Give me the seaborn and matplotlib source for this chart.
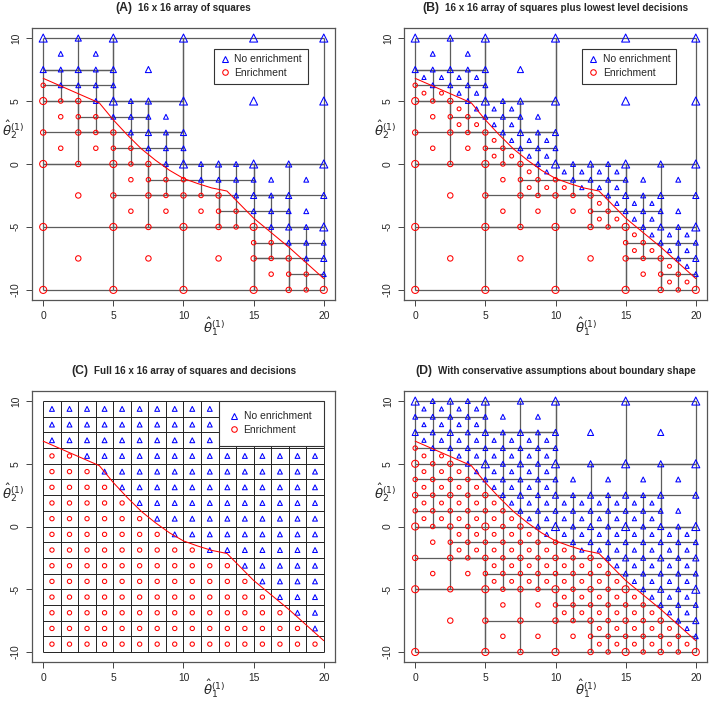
import numpy as np
import pandas as pd
import matplotlib
matplotlib.use("Agg")
import matplotlib.pyplot as plt
import seaborn as sns
from matplotlib.collections import LineCollection
from matplotlib.lines import Line2D
from matplotlib.offsetbox import TextArea, HPacker, AnchoredOffsetbox

CELL = 1.25  # side of the finest square, 20 / 16

# decisions: number of "Enrichment" points in each column,
# counted from the bottom (theta2 = -10 upwards)
# columns of square corners, theta1 = 0, 1.25, ..., 20
corner_enrich = [14, 13, 13, 12, 11, 10, 9, 8, 8, 7, 7, 6, 5, 4, 3, 2, 1]
# columns of square centres, theta1 = 0.625, ..., 19.375 (panel C)
centre_enrich = [13, 13, 12, 11, 10, 9, 8, 7, 7, 6, 6, 5, 4, 3, 2, 1]

# true decision boundary (red line)
bound_x = [0.0, 4.0, 5.0, 6.0, 7.0, 8.0, 9.0, 10.0, 11.0, 12.0, 13.1, 15.0, 17.5, 20.0]
bound_y = [6.8, 4.85, 3.5, 2.3, 1.2, 0.3, -0.5, -1.15, -1.55, -1.9, -2.15, -4.3, -6.6, -9.1]

# panel D: squares larger than 1.25 that were left undivided
d_left = [10, 15, 0, 5, 7.5, 10, 12.5, 15, 17.5, 17.5, 0, 0, 2.5, 5, 7.5, 5, 7.5, 10]
d_bottom = [5, 5, -10, 7.5, 7.5, 2.5, 2.5, 2.5, 2.5, 0, -2.5, -5, -5, -7.5, -7.5, -10, -10, -10]
d_side = [5, 5, 5, 2.5, 2.5, 2.5, 2.5, 2.5, 2.5, 2.5, 2.5, 2.5, 2.5, 2.5, 2.5, 2.5, 2.5, 2.5]

titles = [("(A)", "16 x 16 array of squares"),
          ("(B)", "16 x 16 array of squares plus lowest level decisions"),
          ("(C)", "Full 16 x 16 array of squares and decisions"),
          ("(D)", "With conservative assumptions about boundary shape")]
legend_labels = ["No enrichment", "Enrichment"]

# marker widths (points) by level: 5, 2.5, 1.25, 0.625 lattice
tri_size = [5.8, 4.4, 3.5, 3.0]
circ_size = [5.1, 3.9, 3.2, 2.8]


def is_enrich(x, y):
    i = x / CELL
    j = (y + 10) / CELL
    if float(i).is_integer():
        return int(round(j)) < corner_enrich[int(round(i))]
    return int(np.floor(j)) < centre_enrich[int(np.floor(i))]


def level(x, y):
    for k, step in enumerate((5.0, 2.5, 1.25)):
        if (x / step).is_integer() and ((y + 10) / step).is_integer():
            return k
    return 3


def refine(x0, y0, s, leaves):
    pts = [(x0, y0), (x0 + s, y0), (x0, y0 + s), (x0 + s, y0 + s)]
    if s > CELL:
        pts.append((x0 + s / 2, y0 + s / 2))
    dec = {is_enrich(px, py) for px, py in pts}
    if s <= CELL or len(dec) == 1:
        leaves.append((x0, y0, s))
        return
    h = s / 2
    for dx in (0, h):
        for dy in (0, h):
            refine(x0 + dx, y0 + dy, h, leaves)


def fill_leaves(lefts, bottoms, sides):
    big = list(zip(lefts, bottoms, sides))
    leaves = list(big)
    for i in range(16):
        for j in range(16):
            cx, cy = (i + 0.5) * CELL, -10 + (j + 0.5) * CELL
            if not any(x0 < cx < x0 + s and y0 < cy < y0 + s for x0, y0, s in big):
                leaves.append((i * CELL, -10 + j * CELL, CELL))
    return leaves


def tree_points(leaves, finest_centres):
    pts = {(gx, gy) for gx in (0, 5, 10, 15, 20) for gy in (-10, -5, 0, 5, 10)}
    for x0, y0, s in leaves:
        pts.update({(x0, y0), (x0 + s, y0), (x0, y0 + s), (x0 + s, y0 + s)})
        if s > CELL or finest_centres:
            pts.add((x0 + s / 2, y0 + s / 2))
    return sorted(pts)


def leaf_segments(leaves):
    segs = set()
    for x0, y0, s in leaves:
        x1, y1 = x0 + s, y0 + s
        segs.update({((x0, y0), (x1, y0)), ((x0, y1), (x1, y1)),
                     ((x0, y0), (x0, y1)), ((x1, y0), (x1, y1))})
    return list(segs)


def draw_points(ax, pts, fixed=None):
    df = pd.DataFrame(pts, columns=["t1", "t2"])
    df["enrich"] = [is_enrich(x, y) for x, y in pts]
    df["level"] = [level(x, y) for x, y in pts]
    for flag, marker, color, sizes in ((False, "^", "blue", tri_size),
                                        (True, "o", "red", circ_size)):
        sub = df[df.enrich == flag]
        if fixed is None:
            s = np.array(sizes)[sub.level.values] ** 2
        else:
            s = np.full(len(sub), fixed[int(flag)] ** 2)
        sns.scatterplot(x=sub.t1.values, y=sub.t2.values, s=s, marker=marker,
                        facecolor="none", edgecolor=color, linewidth=0.75,
                        ax=ax, zorder=3)


def style_axes(ax, tag, text):
    ax.set_xlim(-0.8, 20.8)
    ax.set_ylim(-10.8, 10.8)
    ax.set_xticks([0, 5, 10, 15, 20])
    ax.set_yticks([-10, -5, 0, 5, 10])
    ax.set_yticklabels(["-10", "-5", "0", "5", "10"], rotation=90, va="center")
    ax.set_xticklabels(["0", "5", "10", "15", "20"])
    ax.tick_params(length=4, width=0.7, labelsize=7.4, color="#444", pad=4,
                   direction="out", bottom=True, left=True)
    for sp in ax.spines.values():
        sp.set_visible(True)
        sp.set_color("#555")
        sp.set_linewidth(0.9)
    ax.set_xlabel("")
    ax.set_ylabel("")
    ax.text(0.60, -0.10, r"$\hat{\theta}_1^{(1)}$", transform=ax.transAxes,
            ha="center", va="center", fontsize=9.5)
    ax.text(-0.062, 0.625, r"$\hat{\theta}_2^{(1)}$", transform=ax.transAxes,
            ha="center", va="center", fontsize=9.5)
    box = HPacker(children=[TextArea(tag, textprops=dict(fontsize=8.8, fontweight="bold")),
                            TextArea(text, textprops=dict(fontsize=7.1, fontweight="bold"))],
                  align="baseline", pad=0, sep=4)
    ax.add_artist(AnchoredOffsetbox(loc="center", child=box, frameon=False,
                                    bbox_to_anchor=(0.5, 1.072),
                                    bbox_transform=ax.transAxes, borderpad=0, pad=0))


def add_legend(ax, anchor, borderpad, expand=False):
    handles = [Line2D([], [], ls="none", marker="^", mfc="none", mec="blue", ms=4.5, mew=0.75),
               Line2D([], [], ls="none", marker="o", mfc="none", mec="red", ms=4.0, mew=0.75)]
    leg = ax.legend(handles, legend_labels, loc="upper left" if expand else "upper right",
                    bbox_to_anchor=anchor, mode="expand" if expand else None,
                    fontsize=7.5, frameon=True, fancybox=False, edgecolor="#333",
                    framealpha=1, borderpad=borderpad, handletextpad=0.4,
                    labelspacing=0.35, handlelength=1.0, borderaxespad=0)
    leg.get_frame().set_linewidth(0.8)
    leg.set_zorder(10)


sns.set_theme(style="white")
plt.rcParams["font.family"] = ["Liberation Sans", "DejaVu Sans"]

fig = plt.figure(figsize=(7.09, 7.03), dpi=100)
axA = fig.add_axes([0.0451, 0.5733, 0.4274, 0.3869])
axB = fig.add_axes([0.5698, 0.5733, 0.4274, 0.3869])
axC = fig.add_axes([0.0451, 0.0583, 0.4274, 0.3855])
axD = fig.add_axes([0.5698, 0.0583, 0.4274, 0.3855])

leaves_a = []
refine(0.0, -10.0, 20.0, leaves_a)
leaves_d = fill_leaves(d_left, d_bottom, d_side)

panels = [(axA, leaves_a, False), (axB, leaves_a, True), (axD, leaves_d, True)]
for ax, leaves, finest in panels:
    ax.add_collection(LineCollection(leaf_segments(leaves), colors="#5c5c5c",
                                     linewidths=0.9, zorder=2))
    draw_points(ax, tree_points(leaves, finest))

# panel C: the full array
grid_pos = [i * CELL for i in range(17)]
segs_c = [((g, -10), (g, 10)) for g in grid_pos] + [((0, g - 10), (20, g - 10)) for g in grid_pos]
axC.add_collection(LineCollection(segs_c, colors="#222", linewidths=0.7, zorder=2))
centres = [((i + 0.5) * CELL, -10 + (j + 0.5) * CELL) for i in range(16) for j in range(16)]
draw_points(axC, centres, fixed=(3.5, 3.1))

for ax, (tag, text) in zip([axA, axB, axC, axD], titles):
    sns.lineplot(x=bound_x, y=bound_y, color="red", linewidth=0.75, sort=False,
                 estimator=None, ax=ax, zorder=4)
    style_axes(ax, tag, text)

add_legend(axA, (0.910, 0.924), 0.55)
add_legend(axB, (0.898, 0.924), 0.55)
add_legend(axC, ((12.5 + 0.8) / 21.6, 0.0, 7.5 / 21.6, (10 + 10.8) / 21.6), 1.0, expand=True)

fig.savefig("out.png", dpi=100)
